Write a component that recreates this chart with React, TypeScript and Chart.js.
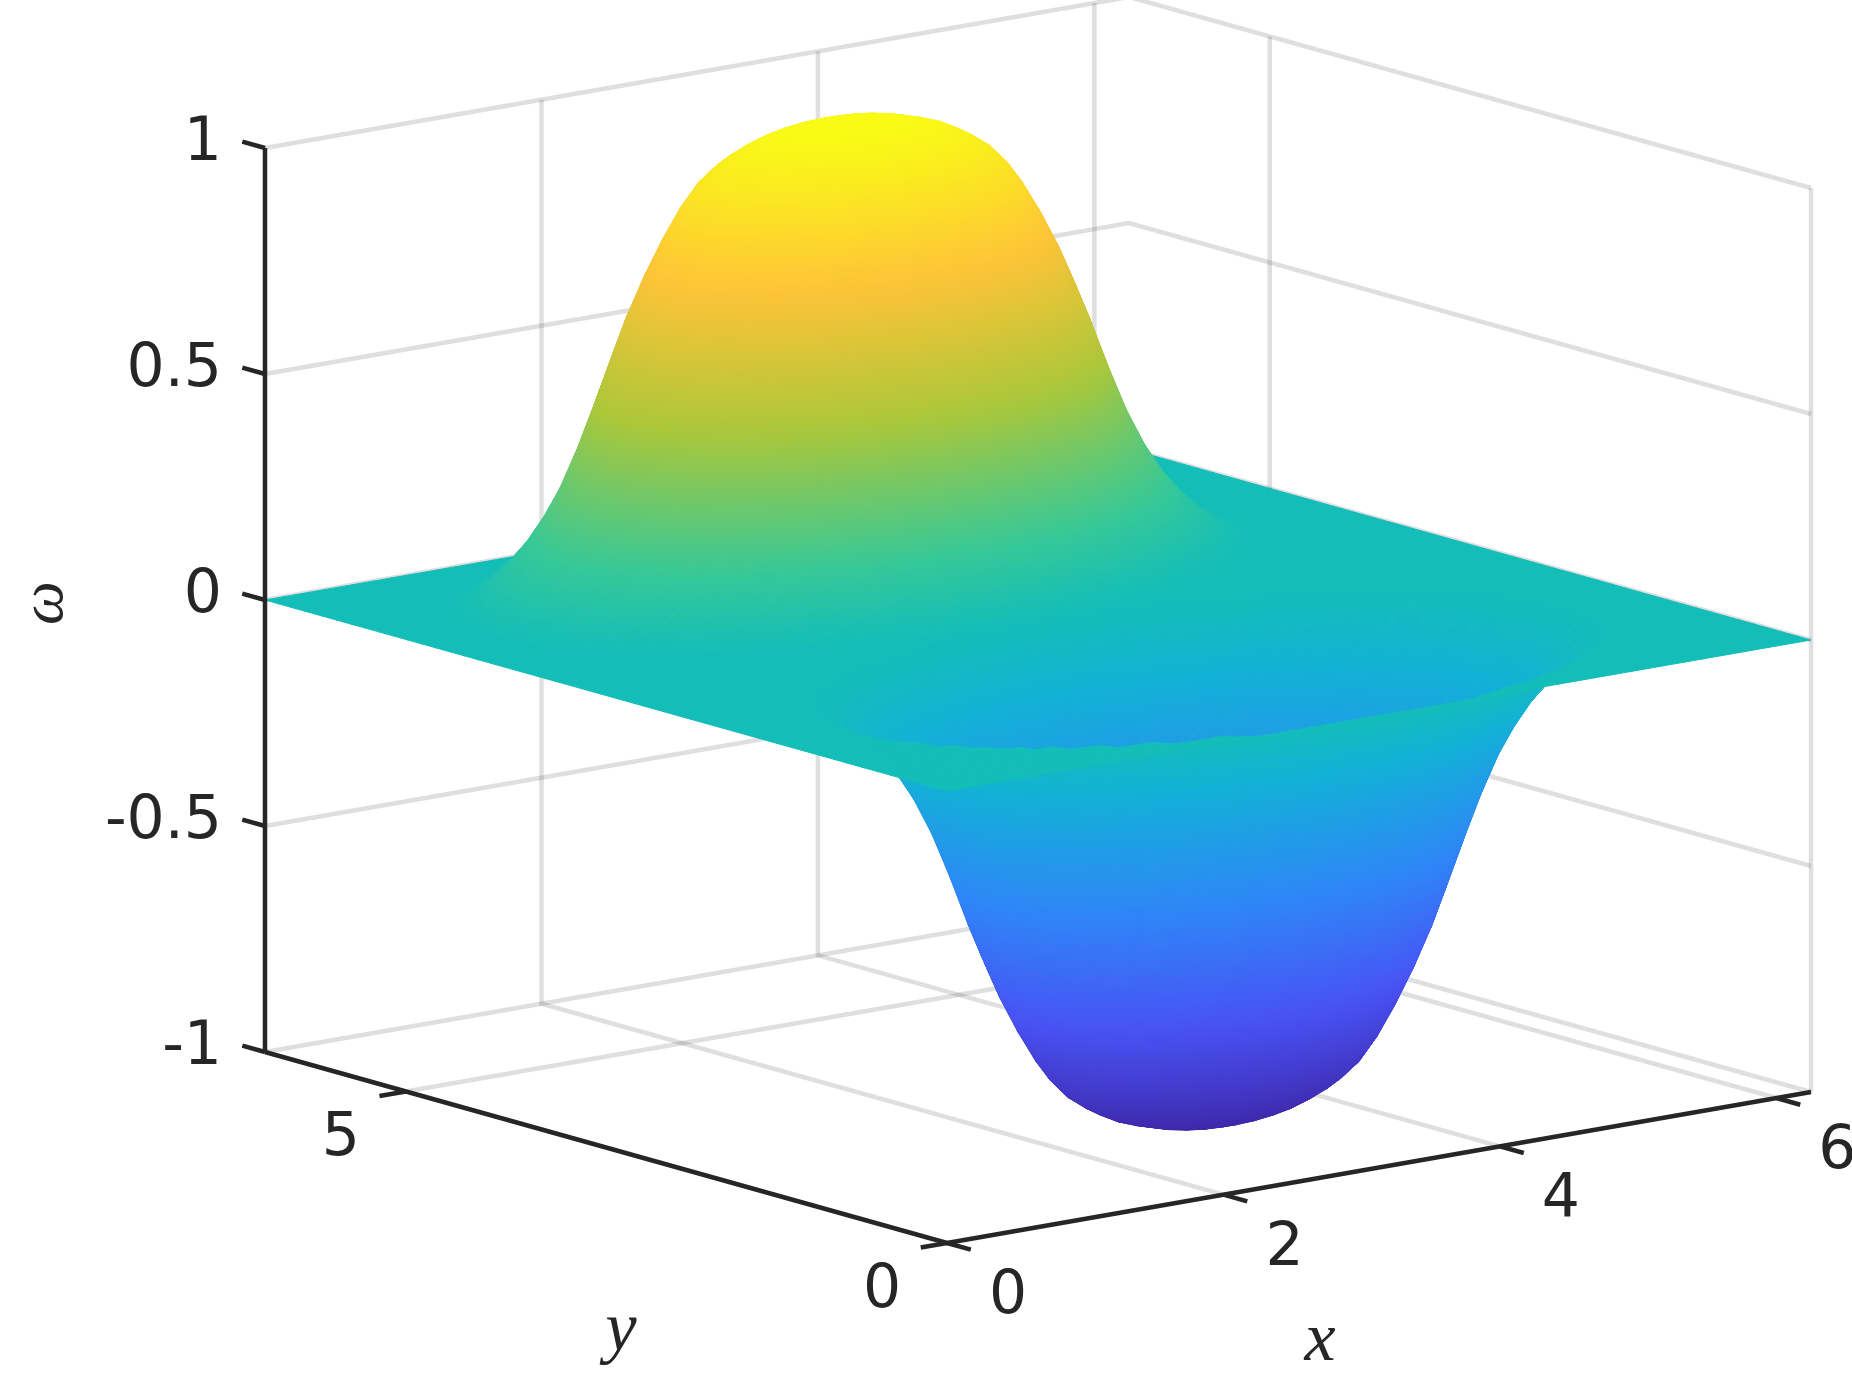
import React, { useEffect, useRef } from "react";
import { Chart, registerables } from "chart.js";

Chart.register(...registerables);

const WIDTH = 1852;
const HEIGHT = 1385;
const X_MAX = 6.25;
const Y_MAX = 6.3;

const xTicks = [0, 2, 4, 6];
const yTicks = [0, 5];
const zTicks = [-1, -0.5, 0, 0.5, 1];
const zTickLabels = ["-1", "-0.5", "0", "0.5", "1"];

// Half profiles of the surface (|omega|), one per row
// away from the extremum row; entry k is k cells away from the centre column.
const band0 = [1.012, 1.01, 1.005, 0.997, 0.985, 0.97, 0.948, 0.919, 0.878, 0.81, 0.729, 0.638, 0.526, 0.405, 0.293, 0.207, 0.142, 0.091, 0.051, 0.02, 0];
const band1 = [1.007, 1.005, 1, 0.992, 0.98, 0.963, 0.942, 0.911, 0.866, 0.796, 0.715, 0.624, 0.512, 0.394, 0.284, 0.2, 0.138, 0.088, 0.049, 0.018, 0];
const band2 = [0.993, 0.991, 0.986, 0.978, 0.965, 0.948, 0.923, 0.889, 0.833, 0.761, 0.679, 0.582, 0.471, 0.358, 0.259, 0.184, 0.124, 0.078, 0.041, 0.014, 0];
const band3 = [0.97, 0.967, 0.961, 0.951, 0.936, 0.916, 0.886, 0.837, 0.774, 0.701, 0.617, 0.516, 0.405, 0.303, 0.22, 0.154, 0.103, 0.062, 0.03, 0.007, 0];
const band4 = [0.929, 0.927, 0.92, 0.906, 0.888, 0.855, 0.813, 0.756, 0.69, 0.615, 0.524, 0.422, 0.325, 0.242, 0.174, 0.12, 0.077, 0.043, 0.016, 0, 0];
const band5 = [0.855, 0.851, 0.841, 0.821, 0.79, 0.751, 0.704, 0.649, 0.575, 0.495, 0.403, 0.316, 0.242, 0.178, 0.127, 0.085, 0.05, 0.022, 0.003, 0, 0];
const band6 = [0.729, 0.725, 0.71, 0.688, 0.658, 0.617, 0.564, 0.502, 0.429, 0.353, 0.281, 0.22, 0.167, 0.121, 0.083, 0.05, 0.024, 0.006, 0, 0, 0];
const band7 = [0.564, 0.56, 0.544, 0.521, 0.486, 0.441, 0.392, 0.338, 0.281, 0.23, 0.184, 0.14, 0.104, 0.073, 0.045, 0.02, 0.004, 0, 0, 0, 0];
const band8 = [0.367, 0.362, 0.351, 0.331, 0.303, 0.273, 0.24, 0.203, 0.172, 0.138, 0.108, 0.08, 0.053, 0.033, 0.013, 0, 0, 0, 0, 0, 0];
const band9 = [0.207, 0.204, 0.198, 0.187, 0.173, 0.154, 0.134, 0.113, 0.091, 0.071, 0.05, 0.032, 0.016, 0.003, 0, 0, 0, 0, 0, 0, 0];
const band10 = [0.108, 0.106, 0.102, 0.094, 0.085, 0.075, 0.062, 0.049, 0.036, 0.022, 0.011, 0.001, 0, 0, 0, 0, 0, 0, 0, 0, 0];
const band11 = [0.04, 0.039, 0.037, 0.033, 0.027, 0.02, 0.014, 0.008, 0, 0, 0, 0, 0, 0, 0, 0, 0, 0, 0, 0, 0];
const band12 = [0, 0, 0, 0, 0, 0, 0, 0, 0, 0, 0, 0, 0, 0, 0, 0, 0, 0, 0, 0, 0];
const bands = [band0, band1, band2, band3, band4, band5, band6, band7, band8, band9, band10, band11, band12];

const CELLS = 48;
const PEAK_COL = 23;
const TROUGH_COL = 24;
const TROUGH_ROW = 12;
const PEAK_ROW = 36;
const BAND_REACH = 12;
const COL_REACH = 20;

const PARULA_POS = [0, 1 / 7, 2 / 7, 3 / 7, 0.5, 4 / 7, 5 / 7, 6 / 7, 1];
const PARULA = [
  [62, 38, 168],
  [72, 82, 244],
  [46, 135, 247],
  [18, 177, 214],
  [19, 189, 184],
  [55, 200, 151],
  [171, 199, 57],
  [254, 195, 56],
  [249, 251, 21],
];

function omegaAt(i: number, j: number): number {
  const dPeak = Math.abs(j - PEAK_ROW);
  if (dPeak <= BAND_REACH) {
    const k = Math.abs(i - PEAK_COL);
    return k > COL_REACH ? 0 : bands[dPeak][k];
  }
  const dTrough = Math.abs(j - TROUGH_ROW);
  if (dTrough <= BAND_REACH) {
    const k = Math.abs(i - TROUGH_COL);
    return k > COL_REACH ? 0 : -bands[dTrough][k];
  }
  return 0;
}

function project(x: number, y: number, z: number) {
  return {
    x: 947 + (864 / X_MAX) * x - (682 / Y_MAX) * y,
    y: 1243 - (151 / X_MAX) * x - (191 / Y_MAX) * y - 452 * (z + 1),
  };
}

function parula(z: number): string {
  const t = Math.min(1, Math.max(0, (z + 1) / 2));
  let a = 0;
  while (a < PARULA_POS.length - 2 && t > PARULA_POS[a + 1]) a++;
  const f = (t - PARULA_POS[a]) / (PARULA_POS[a + 1] - PARULA_POS[a]);
  const c = PARULA[a].map((v, n) => Math.round(v + (PARULA[a + 1][n] - v) * f));
  return `rgb(${c[0]},${c[1]},${c[2]})`;
}

function quadPaint(ctx: any, corners: { x: number; y: number; z: number }[]) {
  const chart = ctx.chart;
  const { x: sx, y: sy } = chart.scales;
  const pts = corners.map((c) => ({ x: sx.getPixelForValue(c.x), y: sy.getPixelForValue(c.y), z: c.z }));
  const zs = pts.map((p) => p.z);
  const zMin = Math.min(...zs);
  const zMax = Math.max(...zs);
  const zMean = (zs[0] + zs[1] + zs[2] + zs[3]) / 4;
  if (zMax - zMin < 0.002) return parula(zMean);
  const [a, b, c, d] = pts;
  const d1x = c.x - a.x, d1y = c.y - a.y, dz1 = c.z - a.z;
  const d2x = d.x - b.x, d2y = d.y - b.y, dz2 = d.z - b.z;
  const det = d1x * d2y - d1y * d2x;
  const gx = (dz1 * d2y - d1y * dz2) / det;
  const gy = (d1x * dz2 - dz1 * d2x) / det;
  const g2 = gx * gx + gy * gy;
  if (!Number.isFinite(g2) || g2 < 1e-12) return parula(zMean);
  const cx = (a.x + b.x + c.x + d.x) / 4;
  const cy = (a.y + b.y + c.y + d.y) / 4;
  const coords = [
    cx + (gx / g2) * (zMin - zMean),
    cy + (gy / g2) * (zMin - zMean),
    cx + (gx / g2) * (zMax - zMean),
    cy + (gy / g2) * (zMax - zMean),
  ];
  if (!coords.every(Number.isFinite)) return parula(zMean);
  const grad = chart.ctx.createLinearGradient(coords[0], coords[1], coords[2], coords[3]);
  for (let s = 0; s <= 4; s++) grad.addColorStop(s / 4, parula(zMin + ((zMax - zMin) * s) / 4));
  return grad;
}

function gridLine(points: number[][]) {
  return {
    data: points.map(([x, y, z]) => project(x, y, z)),
    showLine: true,
    borderColor: "rgba(38,38,38,0.15)",
    borderWidth: 4.5,
    pointRadius: 0,
    fill: false,
    order: 5000,
  };
}

function axisLine(points: number[][]) {
  return {
    data: points.map(([x, y, z]) => project(x, y, z)),
    showLine: true,
    borderColor: "#262626",
    borderWidth: 4.5,
    pointRadius: 0,
    fill: false,
    order: 0,
  };
}

function buildDatasets() {
  const sets: any[] = [];
  zTicks.forEach((z) => sets.push(gridLine([[0, Y_MAX, z], [X_MAX, Y_MAX, z], [X_MAX, 0, z]])));
  xTicks.filter((x) => x > 0).forEach((x) => {
    sets.push(gridLine([[x, Y_MAX, 1], [x, Y_MAX, -1], [x, 0, -1]]));
  });
  yTicks.forEach((y) => {
    sets.push(gridLine([[X_MAX, y, 1], [X_MAX, y, -1]]));
    if (y > 0) sets.push(gridLine([[X_MAX, y, -1], [0, y, -1]]));
  });

  let drawIndex = 0;
  for (let j = CELLS - 1; j >= 0; j--) {
    for (let i = CELLS - 1; i >= 0; i--) {
      const corner = (a: number, b: number) => {
        const z = omegaAt(a, b);
        const p = project((a / CELLS) * X_MAX, (b / CELLS) * Y_MAX, z);
        return { x: p.x, y: p.y, z };
      };
      const corners = [corner(i, j), corner(i + 1, j), corner(i + 1, j + 1), corner(i, j + 1)];
      const paint = (ctx: any) => quadPaint(ctx, corners);
      sets.push({
        data: [...corners, corners[0]].map((c) => ({ x: c.x, y: c.y })),
        showLine: true,
        pointRadius: 0,
        borderWidth: 1,
        borderColor: paint,
        backgroundColor: paint,
        fill: "shape",
        order: 4000 - drawIndex,
      });
      drawIndex++;
    }
  }

  sets.push(axisLine([[0, Y_MAX, -1], [0, Y_MAX, 1]]));
  sets.push(axisLine([[0, 0, -1], [0, Y_MAX, -1]]));
  sets.push(axisLine([[0, 0, -1], [X_MAX, 0, -1]]));
  zTicks.forEach((z) => sets.push(axisLine([[0, Y_MAX, z], [0, Y_MAX + 0.21, z]])));
  xTicks.forEach((x) => sets.push(axisLine([[x, 0, -1], [x, -0.22, -1]])));
  yTicks.forEach((y) => sets.push(axisLine([[0, y, -1], [-0.19, y, -1]])));
  return sets;
}

const labelPlugin = {
  id: "boxLabels",
  afterDatasetsDraw(chart: any) {
    const { ctx } = chart;
    const sx = chart.scales.x;
    const sy = chart.scales.y;
    const put = (p: { x: number; y: number }, dx: number, dy: number, text: string, align: CanvasTextAlign) => {
      ctx.textAlign = align;
      ctx.fillText(text, sx.getPixelForValue(p.x) + dx, sy.getPixelForValue(p.y) + dy);
    };
    ctx.save();
    ctx.fillStyle = "#262626";
    ctx.textBaseline = "alphabetic";
    ctx.font = '60px "DejaVu Sans"';
    zTicks.forEach((z, n) => {
      const p = project(0, Y_MAX, z);
      ctx.textAlign = "right";
      ctx.fillText(zTickLabels[n], 222, sy.getPixelForValue(p.y) + 12);
    });
    xTicks.forEach((x) => put(project(x, 0, -1), 61, 70, String(x), "center"));
    yTicks.forEach((y) => put(project(0, y, -1), -65, 64, String(y), "center"));

    ctx.font = 'italic 70px "Liberation Serif"';
    ctx.textAlign = "center";
    ctx.fillText("x", 1320, 1360);
    ctx.fillText("y", 621, 1350);
    ctx.font = 'italic 62px "Liberation Serif"';
    ctx.save();
    ctx.translate(62, 603);
    ctx.rotate(-Math.PI / 2);
    ctx.fillText("ω", 0, 0);
    ctx.restore();
    ctx.restore();
  },
};

export default function App() {
  const ref = useRef<HTMLCanvasElement | null>(null);
  useEffect(() => {
    if (!ref.current) return;
    const chart = new Chart(ref.current, {
      type: "scatter",
      data: { datasets: buildDatasets() },
      options: {
        animation: false,
        responsive: false,
        devicePixelRatio: 1,
        events: [],
        layout: { padding: 0 },
        elements: { line: { tension: 0, capBezierPoints: false } },
        plugins: { legend: { display: false }, tooltip: { enabled: false }, title: { display: false } },
        scales: {
          x: { type: "linear", min: 0, max: WIDTH, display: false },
          y: { type: "linear", min: 0, max: HEIGHT, reverse: true, display: false },
        },
      },
      plugins: [labelPlugin],
    } as any);
    return () => chart.destroy();
  }, []);
  return (
    <canvas
      ref={ref}
      width={WIDTH}
      height={HEIGHT}
      style={{ position: "fixed", left: 0, top: 0, width: WIDTH, height: HEIGHT, display: "block", background: "#fff" }}
    />
  );
}
